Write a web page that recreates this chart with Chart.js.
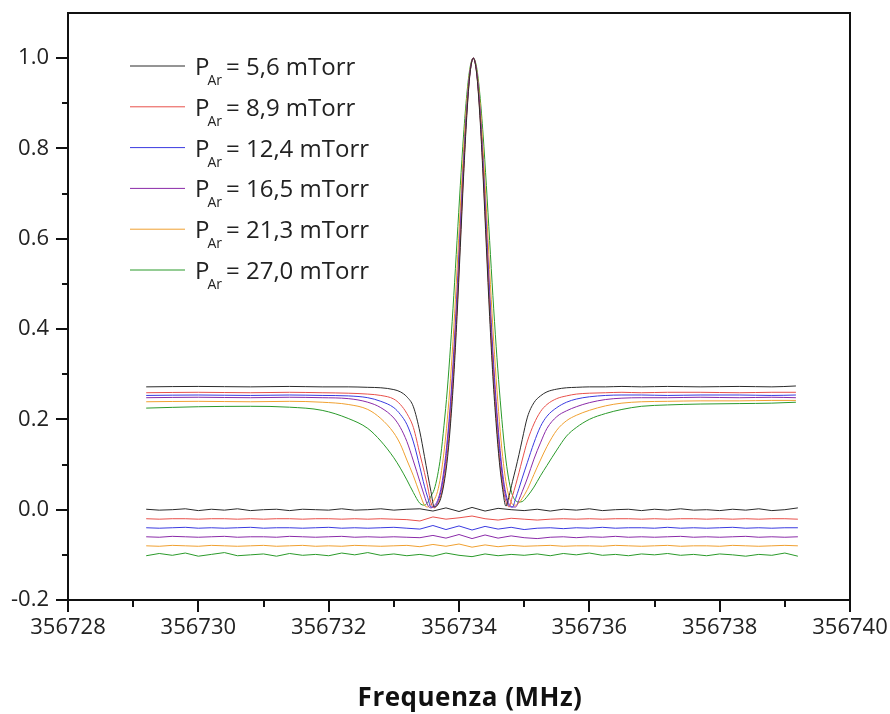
<!DOCTYPE html>
<html>
<head>
<meta charset="utf-8">
<script src="https://cdn.jsdelivr.net/npm/chart.js@4.4.1/dist/chart.umd.min.js"></script>
<style>
  html, body { margin: 0; padding: 0; background: #fff; }
  canvas { display: block; }
</style>
</head>
<body>
<canvas id="spectrumChart" width="890" height="714"></canvas>
<script>
//Series names and colours
const pressures = ['5,6', '8,9', '12,4', '16,5', '21,3', '27,0'];
const colors = ['#2a2a2a', '#e8504a', '#3a3ae0', '#8a2aa8', '#f0a030', '#2a9a2a'];

//Frequencies of the upper (dip + peak) traces, MHz
const upperX = [
  356729.2, 356730.0, 356730.8, 356731.4, 356731.9, 356732.3, 356732.6, 356732.8,
  356733.0, 356733.1, 356733.2, 356733.3, 356733.4, 356733.47, 356733.52, 356733.57,
  356733.62, 356733.67, 356733.72, 356733.77, 356733.82, 356733.87, 356733.92, 356733.97,
  356734.02, 356734.07, 356734.12, 356734.17, 356734.22, 356734.27, 356734.32, 356734.37,
  356734.42, 356734.47, 356734.52, 356734.57, 356734.62, 356734.67, 356734.72, 356734.77,
  356734.82, 356734.87, 356734.92, 356734.97, 356735.05, 356735.15, 356735.25, 356735.35,
  356735.5, 356735.65, 356735.8, 356736.0, 356736.25, 356736.5, 356736.8, 356737.2,
  356737.7, 356738.3, 356738.8, 356739.17
];

//Upper traces
const black = [
  0.272, 0.273, 0.272, 0.273, 0.272, 0.272, 0.271, 0.270,
  0.266, 0.261, 0.250, 0.228, 0.172, 0.118, 0.078, 0.040,
  0.006, 0.010, 0.025, 0.058, 0.110, 0.190, 0.295, 0.428, 0.581, 0.737, 0.873, 0.967, 1.000,
  0.967, 0.873, 0.737, 0.581, 0.428, 0.295, 0.190, 0.105, 0.045, 0.008, 0.031, 0.062, 0.091, 0.122, 0.155,
  0.205, 0.237, 0.252, 0.261, 0.267, 0.270, 0.271, 0.272, 0.272, 0.273, 0.272, 0.273, 0.272, 0.273, 0.272, 0.274
];
const red = [
  0.259, 0.260, 0.259, 0.260, 0.259, 0.258, 0.256, 0.253,
  0.245, 0.233, 0.213, 0.182, 0.123, 0.082, 0.050, 0.015,
  0.004, 0.012, 0.030, 0.066, 0.124, 0.205, 0.312, 0.445, 0.596, 0.747, 0.879, 0.968, 1.000,
  0.968, 0.879, 0.747, 0.596, 0.445, 0.312, 0.205, 0.115, 0.055, 0.018, 0.006, 0.030, 0.055, 0.082, 0.110,
  0.152, 0.190, 0.217, 0.233, 0.246, 0.252, 0.256, 0.258, 0.259, 0.260, 0.259, 0.260, 0.260, 0.259, 0.260, 0.260
];
const blue = [
  0.253, 0.254, 0.253, 0.254, 0.253, 0.252, 0.248, 0.240,
  0.226, 0.211, 0.189, 0.150, 0.094, 0.052, 0.027, 0.006,
  0.006, 0.016, 0.038, 0.078, 0.142, 0.225, 0.334, 0.467, 0.614, 0.760, 0.885, 0.970, 1.000,
  0.970, 0.885, 0.760, 0.614, 0.467, 0.334, 0.225, 0.135, 0.068, 0.028, 0.008, 0.006, 0.025, 0.047, 0.070,
  0.105, 0.148, 0.184, 0.207, 0.226, 0.238, 0.245, 0.250, 0.253, 0.254, 0.254, 0.253, 0.254, 0.254, 0.253, 0.254
];
const purple = [
  0.248, 0.249, 0.248, 0.249, 0.248, 0.246, 0.238, 0.226,
  0.203, 0.182, 0.151, 0.108, 0.062, 0.030, 0.010, 0.004,
  0.009, 0.020, 0.045, 0.090, 0.155, 0.240, 0.351, 0.483, 0.628, 0.769, 0.890, 0.971, 1.000,
  0.971, 0.890, 0.769, 0.628, 0.483, 0.351, 0.240, 0.150, 0.080, 0.035, 0.012, 0.006, 0.006, 0.022, 0.040,
  0.070, 0.112, 0.148, 0.180, 0.206, 0.219, 0.228, 0.237, 0.244, 0.247, 0.248, 0.248, 0.249, 0.248, 0.249, 0.248
];
const orange = [
  0.239, 0.240, 0.239, 0.240, 0.238, 0.233, 0.222, 0.202,
  0.170, 0.145, 0.110, 0.075, 0.035, 0.010, 0.006, 0.012,
  0.022, 0.040, 0.075, 0.128, 0.199, 0.290, 0.403, 0.532, 0.668, 0.797, 0.904, 0.975, 1.000,
  0.975, 0.904, 0.797, 0.668, 0.532, 0.403, 0.290, 0.195, 0.118, 0.062, 0.028, 0.012, 0.010, 0.015, 0.025,
  0.045, 0.078, 0.110, 0.140, 0.176, 0.197, 0.209, 0.220, 0.230, 0.236, 0.239, 0.240, 0.241, 0.241, 0.242, 0.242
];
const green = [
  0.225, 0.228, 0.229, 0.227, 0.220, 0.202, 0.180, 0.152,
  0.115, 0.092, 0.066, 0.038, 0.014, 0.010, 0.016, 0.030,
  0.045, 0.075, 0.120, 0.187, 0.265, 0.362, 0.474, 0.596, 0.718, 0.830, 0.920, 0.980, 1.000,
  0.980, 0.920, 0.830, 0.718, 0.596, 0.474, 0.362, 0.265, 0.180, 0.110, 0.062, 0.032, 0.020, 0.017, 0.018,
  0.030, 0.050, 0.075, 0.098, 0.132, 0.163, 0.182, 0.200, 0.213, 0.222, 0.229, 0.232, 0.234, 0.235, 0.236, 0.238
];

//Frequencies of the lower (baseline) traces, MHz
const lowerX = [
  356729.2, 356729.4, 356729.6, 356729.8, 356730.0, 356730.2, 356730.4, 356730.6, 356730.8, 356731.0,
  356731.2, 356731.4, 356731.6, 356731.8, 356732.0, 356732.2, 356732.4, 356732.6, 356732.8, 356733.0,
  356733.2, 356733.4, 356733.6, 356733.8, 356734.0, 356734.2, 356734.4, 356734.6, 356734.8, 356735.0,
  356735.2, 356735.4, 356735.6, 356735.8, 356736.0, 356736.2, 356736.4, 356736.6, 356736.8, 356737.0,
  356737.2, 356737.4, 356737.6, 356737.8, 356738.0, 356738.2, 356738.4, 356738.6, 356738.8, 356739.0,
  356739.2
];

//Lower traces
const blackLow = [
  0.001, -0.001, 0.000, 0.002, -0.002, 0.001, -0.001, 0.002, -0.002, 0.000,
  0.001, -0.002, 0.001, 0.000, -0.001, 0.002, -0.001, 0.000, 0.002, -0.001,
  0.001, 0.002, -0.003, 0.004, -0.004, 0.005, -0.003, 0.003, 0.000, -0.002,
  0.001, -0.003, 0.001, -0.001, 0.002, -0.002, 0.000, 0.001, -0.002, 0.001,
  -0.001, 0.002, -0.001, 0.000, -0.002, 0.001, -0.001, 0.002, -0.002, 0.000,
  0.004
];
const redLow = [
  -0.020, -0.021, -0.020, -0.020, -0.021, -0.020, -0.020, -0.021, -0.020, -0.021,
  -0.020, -0.020, -0.021, -0.020, -0.020, -0.021, -0.020, -0.021, -0.020, -0.021,
  -0.022, -0.025, -0.016, -0.021, -0.018, -0.014, -0.020, -0.023, -0.019, -0.021,
  -0.023, -0.021, -0.020, -0.021, -0.020, -0.021, -0.020, -0.020, -0.021, -0.020,
  -0.021, -0.020, -0.020, -0.021, -0.020, -0.021, -0.020, -0.021, -0.020, -0.020,
  -0.021
];
const blueLow = [
  -0.040, -0.041, -0.040, -0.039, -0.041, -0.040, -0.041, -0.040, -0.039, -0.041,
  -0.040, -0.040, -0.041, -0.040, -0.039, -0.041, -0.040, -0.041, -0.040, -0.039,
  -0.041, -0.043, -0.035, -0.044, -0.036, -0.045, -0.037, -0.043, -0.039, -0.044,
  -0.041, -0.040, -0.042, -0.040, -0.041, -0.039, -0.041, -0.040, -0.040, -0.041,
  -0.039, -0.041, -0.040, -0.041, -0.040, -0.039, -0.041, -0.040, -0.041, -0.040,
  -0.040
];
const purpleLow = [
  -0.060, -0.061, -0.059, -0.060, -0.061, -0.060, -0.059, -0.061, -0.060, -0.060,
  -0.061, -0.059, -0.060, -0.061, -0.060, -0.059, -0.061, -0.060, -0.061, -0.060,
  -0.061, -0.062, -0.057, -0.063, -0.055, -0.064, -0.056, -0.063, -0.058, -0.062,
  -0.064, -0.061, -0.060, -0.062, -0.060, -0.061, -0.059, -0.061, -0.060, -0.061,
  -0.060, -0.059, -0.061, -0.060, -0.061, -0.060, -0.059, -0.061, -0.060, -0.061,
  -0.060
];
const orangeLow = [
  -0.080, -0.081, -0.079, -0.080, -0.081, -0.079, -0.080, -0.081, -0.080, -0.079,
  -0.081, -0.080, -0.079, -0.081, -0.080, -0.081, -0.079, -0.080, -0.081, -0.080,
  -0.079, -0.082, -0.077, -0.081, -0.076, -0.083, -0.078, -0.082, -0.079, -0.081,
  -0.080, -0.079, -0.081, -0.080, -0.080, -0.081, -0.079, -0.080, -0.081, -0.080,
  -0.079, -0.081, -0.080, -0.080, -0.081, -0.079, -0.080, -0.081, -0.080, -0.079,
  -0.080
];
const greenLow = [
  -0.102, -0.097, -0.101, -0.096, -0.103, -0.099, -0.095, -0.102, -0.100, -0.098,
  -0.103, -0.097, -0.101, -0.099, -0.102, -0.096, -0.100, -0.095, -0.101, -0.098,
  -0.102, -0.099, -0.103, -0.096, -0.101, -0.104, -0.098, -0.102, -0.099, -0.101,
  -0.098, -0.102, -0.097, -0.100, -0.096, -0.101, -0.099, -0.102, -0.098, -0.100,
  -0.097, -0.101, -0.099, -0.102, -0.098, -0.100, -0.103, -0.099, -0.101, -0.096,
  -0.103
];

const upperSeries = [black, red, blue, purple, orange, green];
const lowerSeries = [blackLow, redLow, blueLow, purpleLow, orangeLow, greenLow];

const FONT = 'Open Sans';

//Building the datasets (upper trace + baseline for each pressure)
const datasets = [];
upperSeries.forEach((ys, i) => {
  datasets.push({
    label: 'P_Ar = ' + pressures[i] + ' mTorr',
    data: upperX.map((x, j) => ({ x: x, y: ys[j] })),
    borderColor: colors[i],
    cubicInterpolationMode: 'monotone'
  });
});
lowerSeries.forEach((ys, i) => {
  datasets.push({
    label: 'baseline ' + pressures[i],
    data: lowerX.map((x, j) => ({ x: x, y: ys[j] })),
    borderColor: colors[i],
    tension: 0
  });
});

//Frame, minor ticks, legend with subscripts and axis title
const decorations = {
  id: 'decorations',
  afterDraw(chart) {
    const { ctx, chartArea: a, scales: { x, y } } = chart;
    ctx.save();
    ctx.strokeStyle = '#111';
    ctx.lineWidth = 2;
    ctx.strokeRect(a.left, a.top, a.right - a.left, a.bottom - a.top);
    ctx.beginPath();
    for (let v = 356728; v <= 356740; v++) {
      const px = Math.round(x.getPixelForValue(v));
      ctx.moveTo(px, a.bottom);
      ctx.lineTo(px, a.bottom + (v % 2 === 0 ? 12 : 7));
    }
    for (let k = -2; k <= 10; k++) {
      const py = Math.round(y.getPixelForValue(k / 10));
      ctx.moveTo(a.left, py);
      ctx.lineTo(a.left - (k % 2 === 0 ? 12 : 6), py);
    }
    ctx.stroke();

    //Legend
    ctx.fillStyle = '#222';
    ctx.textAlign = 'left';
    ctx.textBaseline = 'alphabetic';
    pressures.forEach((p, i) => {
      const ly = 66 + i * 40.8;
      ctx.strokeStyle = colors[i];
      ctx.lineWidth = 1;
      ctx.beginPath();
      ctx.moveTo(130, ly);
      ctx.lineTo(185, ly);
      ctx.stroke();
      ctx.font = '24px "' + FONT + '"';
      ctx.fillText('P', 195, ly + 9);
      const pw = ctx.measureText('P').width;
      ctx.font = '14px "' + FONT + '"';
      ctx.fillText('Ar', 195 + pw - 2, ly + 19);
      ctx.font = '24px "' + FONT + '"';
      ctx.fillText('= ' + p + ' mTorr', 226, ly + 9);
    });

    //X axis title
    ctx.font = 'bold 26px "' + FONT + '"';
    ctx.letterSpacing = '0.5px';
    ctx.textAlign = 'center';
    ctx.fillStyle = '#111';
    ctx.fillText('Frequenza (MHz)', 470, 706);
    ctx.restore();
  }
};

const tickFont = { family: FONT, size: 22 };

new Chart(document.getElementById('spectrumChart'), {
  type: 'line',
  data: { datasets: datasets },
  options: {
    responsive: false,
    animation: false,
    layout: { padding: { top: 13, right: 40, left: 0, bottom: 0 } },
    plugins: {
      legend: { display: false },
      tooltip: { enabled: false }
    },
    elements: {
      point: { radius: 0 },
      line: { borderWidth: 1 }
    },
    scales: {
      x: {
        type: 'linear',
        min: 356728,
        max: 356740,
        afterFit: (s) => { s.height = 114; s.paddingLeft = 0; s.paddingRight = 0; },
        border: { display: false },
        grid: { drawOnChartArea: false, color: 'rgba(0,0,0,0)', tickLength: 12 },
        ticks: {
          stepSize: 2,
          autoSkip: false,
          maxRotation: 0,
          padding: 3,
          color: '#222',
          font: tickFont,
          callback: (v) => String(Math.round(v))
        }
      },
      y: {
        min: -0.2,
        max: 1.1,
        afterFit: (s) => { s.width = 68; s.paddingTop = 0; s.paddingBottom = 0; },
        border: { display: false },
        grid: { drawOnChartArea: false, color: 'rgba(0,0,0,0)', tickLength: 12 },
        ticks: {
          stepSize: 0.2,
          padding: 7,
          color: '#222',
          font: tickFont,
          callback: (v) => {
            const r = Math.round(v * 10) / 10 + 0;
            return Math.abs(v * 5 - Math.round(v * 5)) < 1e-6 ? r.toFixed(1) : '';
          }
        }
      }
    }
  },
  plugins: [decorations]
});
</script>
</body>
</html>
